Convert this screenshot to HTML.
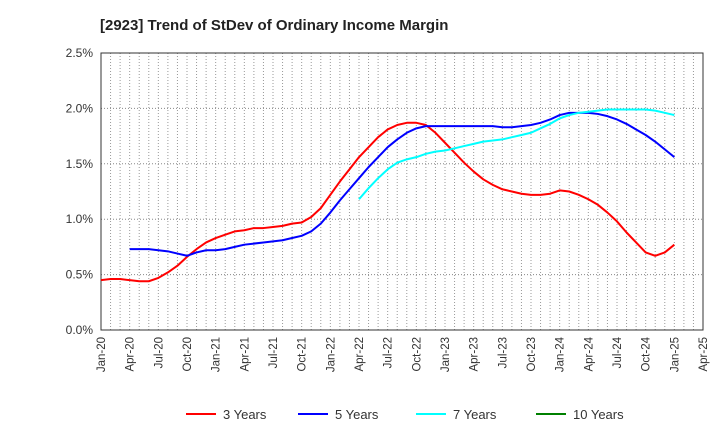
<!DOCTYPE html>
<html><head><meta charset="utf-8"><style>
body{margin:0;background:#fff;font-family:"Liberation Sans",Arial,sans-serif}
svg text{font-family:"Liberation Sans",Arial,sans-serif;fill:#333}
</style></head><body>
<svg id="c" width="720" height="440">
<text x="100" y="30" font-size="15" font-weight="bold" style="fill:#222">[2923]  Trend of StDev of Ordinary Income Margin</text>
<g id="grid"></g><g id="axes"></g><g id="lines"></g><g id="legend"></g>
</svg>
<script>
const xLabels=["Jan-20","Apr-20","Jul-20","Oct-20","Jan-21","Apr-21","Jul-21","Oct-21","Jan-22","Apr-22","Jul-22","Oct-22","Jan-23","Apr-23","Jul-23","Oct-23","Jan-24","Apr-24","Jul-24","Oct-24","Jan-25","Apr-25"];
const yTicks=[0,0.5,1.0,1.5,2.0,2.5];
const s3=[0.45,0.46,0.46,0.45,0.44,0.44,0.47,0.52,0.58,0.66,0.73,0.79,0.83,0.86,0.89,0.90,0.92,0.92,0.93,0.94,0.96,0.97,1.02,1.10,1.22,1.34,1.45,1.56,1.65,1.74,1.81,1.85,1.87,1.87,1.85,1.78,1.69,1.60,1.51,1.43,1.36,1.31,1.27,1.25,1.23,1.22,1.22,1.23,1.26,1.25,1.22,1.18,1.13,1.06,0.98,0.88,0.79,0.70,0.67,0.70,0.77];
const s5=[0.73,0.73,0.73,0.72,0.71,0.69,0.67,0.70,0.72,0.72,0.73,0.75,0.77,0.78,0.79,0.80,0.81,0.83,0.85,0.89,0.96,1.06,1.17,1.27,1.37,1.47,1.56,1.65,1.72,1.78,1.82,1.84,1.84,1.84,1.84,1.84,1.84,1.84,1.84,1.83,1.83,1.84,1.85,1.87,1.90,1.94,1.96,1.96,1.96,1.95,1.93,1.90,1.86,1.81,1.76,1.70,1.63,1.56];
const s7=[1.18,1.28,1.37,1.45,1.51,1.54,1.56,1.59,1.61,1.62,1.64,1.66,1.68,1.70,1.71,1.72,1.74,1.76,1.78,1.82,1.86,1.91,1.94,1.96,1.97,1.98,1.99,1.99,1.99,1.99,1.99,1.98,1.96,1.94];
const s10=[];
const X0=101,X1=703,Y0=330,Y1=53,NM=63;
const xs=m=>X0+(X1-X0)*m/NM;
const ys=v=>Y0-(Y0-Y1)*v/2.5;
const NS="http://www.w3.org/2000/svg";
function mk(p,t,a){const e=document.createElementNS(NS,t);for(const k in a)e.setAttribute(k,a[k]);p.appendChild(e);return e;}
const G=document.getElementById('grid'),A=document.getElementById('axes'),L=document.getElementById('lines'),LG=document.getElementById('legend');
for(let m=1;m<NM;m++){const g=mk(G,'line',{x1:xs(m),x2:xs(m),y1:Y1,y2:Y0,stroke:'#999','stroke-dasharray':'1,2','stroke-width':1});

}
yTicks.forEach(v=>{if(v>0&&v<2.5){const g=mk(G,'line',{x1:X0,x2:X1,y1:ys(v),y2:ys(v),stroke:'#888','stroke-dasharray':'1,2'});

}
const t=mk(A,'text',{x:X0-8,y:ys(v)+4,'font-size':12,'text-anchor':'end'});t.textContent=v.toFixed(1)+'%';

});
const fr=mk(A,'rect',{x:X0,y:Y1,width:X1-X0,height:Y0-Y1,fill:'none',stroke:'#333','stroke-width':1});


xLabels.forEach((l,i)=>{const x=xs(i*3);const t=mk(A,'text',{x:0,y:0,'font-size':11.5,'text-anchor':'end',transform:`translate(${x+4},${Y0+7}) rotate(-90)`});t.textContent=l;

});
function line(d,start,col,name){if(!d.length)return;const p=mk(L,'polyline',{points:d.map((v,i)=>xs(start+i)+','+ys(v)).join(' '),fill:'none',stroke:col,'stroke-width':2,'stroke-linejoin':'round'});

}
line(s3,0,'#ff0000','series-3-years');
line(s5,3,'#0000ff','series-5-years');
line(s7,27,'#00ffff','series-7-years');
line(s10,60,'#008000','series-10-years');
[['3 Years','#ff0000',186],['5 Years','#0000ff',298],['7 Years','#00ffff',416],['10 Years','#008000',536]].forEach(([n,c,x])=>{
const l=mk(LG,'line',{x1:x,x2:x+30,y1:414,y2:414,stroke:c,'stroke-width':2});


const t=mk(LG,'text',{x:x+37,y:419,'font-size':13});t.textContent=n;

});
</script>
</body></html>
